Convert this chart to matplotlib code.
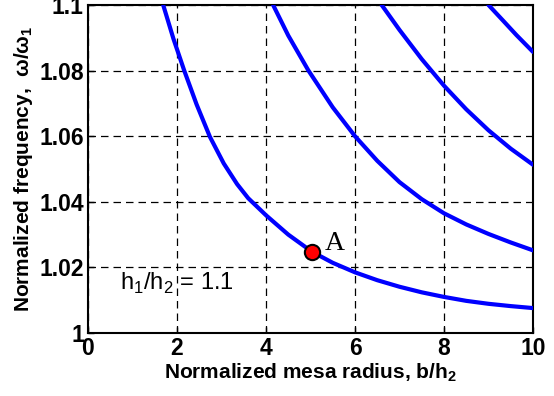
import numpy as np
import matplotlib.pyplot as plt

plt.rcParams['font.family'] = ['Liberation Sans', 'DejaVu Sans']

# curves (b/h2, omega/omega1)
x1 = [1.69, 1.92, 2.16, 2.44, 2.74, 3.05, 3.35, 3.6, 4.0, 4.5, 5.03, 5.5, 6.0, 6.5, 7.0,
      7.5, 8.0, 8.5, 9.0, 9.5, 10.0]
y1 = [1.1, 1.0897, 1.0801, 1.0697, 1.0598, 1.0517, 1.0454, 1.0411, 1.0359, 1.0300, 1.0248,
      1.0214, 1.0185, 1.0161, 1.0141, 1.0124, 1.0110, 1.0098, 1.0089, 1.0082, 1.0076]
x2 = [4.16, 4.5, 4.95, 5.5, 6.0, 6.5, 7.0, 7.5, 8.0, 8.5, 9.0, 9.5, 10.0]
y2 = [1.1, 1.0907, 1.0801, 1.0688, 1.0600, 1.0525, 1.0460, 1.0408, 1.0365, 1.0331, 1.0302,
      1.0276, 1.0252]
x3 = [6.6, 7.0, 7.5, 8.0, 8.5, 9.0, 9.5, 10.0]
y3 = [1.1, 1.0924, 1.0835, 1.0754, 1.0682, 1.0618, 1.0562, 1.0513]
x4 = [9.0, 9.33, 9.63, 10.0]
y4 = [1.1, 1.0952, 1.0908, 1.0857]
curves = [(x1, y1), (x2, y2), (x3, y3), (x4, y4)]

pt_A = (5.03, 1.0248)

xticks = [0, 2, 4, 6, 8, 10]
yticks = [1.0, 1.02, 1.04, 1.06, 1.08, 1.1]
ytick_labels = ['1', '1.02', '1.04', '1.06', '1.08', '1.1']

fig = plt.figure(figsize=(5.54, 3.96), dpi=100)
ax = fig.add_axes([88/554, 1-333/396, (533-88)/554, (333-5)/396])

for xs, ys in curves:
    ax.plot(xs, ys, color='#0000ff', lw=3, solid_capstyle='round',
            solid_joinstyle='round', zorder=3)

ax.plot(*pt_A, 'o', ms=11, mfc='red', mec='black', mew=1.5, zorder=4)
ax.text(5.33, 1.0253, 'A', family='Liberation Serif', fontsize=20)
ax.text(0.72, 1.0131, r'h$_{\mathregular{1}}$/h$_{\mathregular{2}}$ = 1.1', fontsize=17)

ax.set_xlim(0, 10)
ax.set_ylim(1.0, 1.1)
ax.set_xticks(xticks)
ax.set_yticks(yticks)
ax.set_yticklabels(ytick_labels)
ax.tick_params(direction='in', length=4, width=1, labelsize=16.5, pad=3)
for lab in ax.get_xticklabels() + ax.get_yticklabels():
    lab.set_fontweight('bold')
ax.grid(True, color='black', ls=(0, (6, 4)), lw=0.9)
for s in ax.spines.values():
    s.set_linewidth(1.5)

ax.set_xlabel(r'Normalized mesa radius, b/h$_{\mathregular{2}}$', fontsize=15, fontweight='bold', labelpad=1)
ax.set_ylabel(r'Normalized frequency,  ω/ω$_{\mathregular{1}}$', fontsize=15, fontweight='bold', labelpad=3)

fig.savefig('out.png', dpi=100)
